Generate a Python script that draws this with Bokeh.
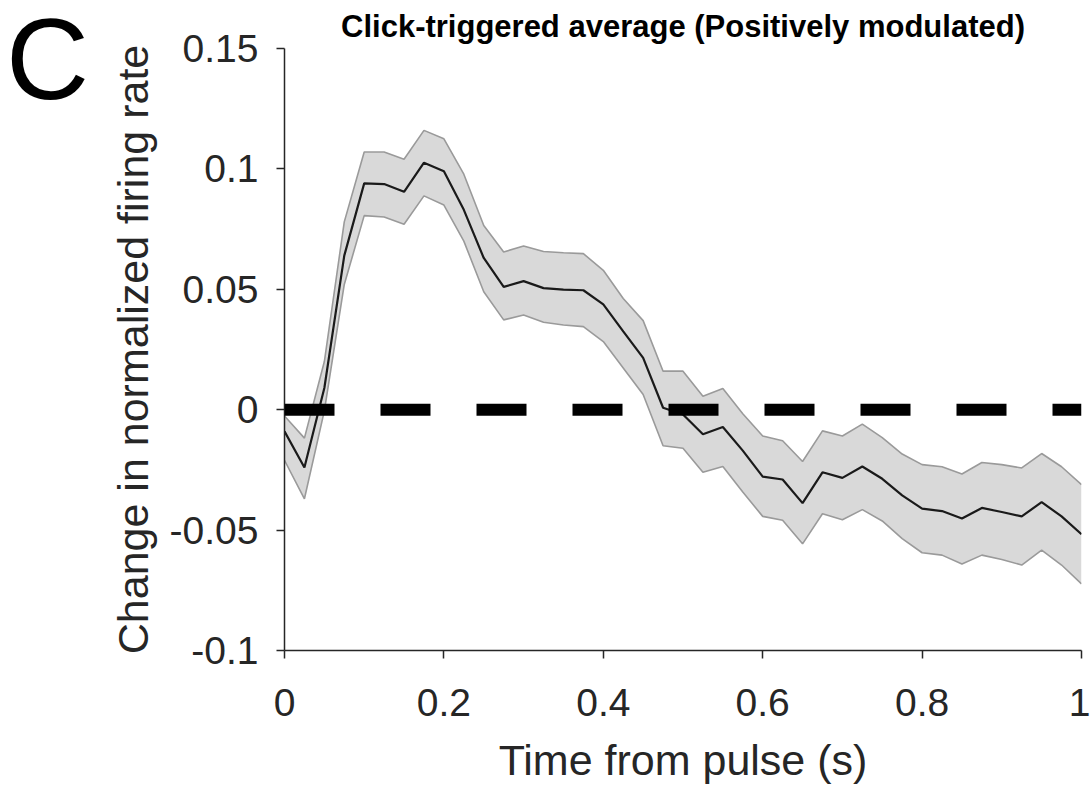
from bokeh.plotting import figure
from bokeh.models import Range1d, Span, FixedTicker, Div
from bokeh.layouts import row
from bokeh.embed import file_html
from bokeh.resources import INLINE

# ---- data ----
time_s = [0.0, 0.025, 0.05, 0.075, 0.1, 0.125, 0.15, 0.175, 0.2, 0.225,
          0.25, 0.275, 0.3, 0.325, 0.35, 0.375, 0.4, 0.425, 0.45, 0.475,
          0.5, 0.525, 0.55, 0.575, 0.6, 0.625, 0.65, 0.675, 0.7, 0.725,
          0.75, 0.775, 0.8, 0.825, 0.85, 0.875, 0.9, 0.925, 0.95, 0.975, 1.0]

mean_rate = [-0.009, -0.024, 0.009, 0.064, 0.094, 0.0937, 0.0905, 0.1026, 0.099, 0.083,
             0.063, 0.051, 0.0534, 0.0505, 0.0499, 0.0496, 0.0437, 0.0325, 0.0215, 0.0008,
             -0.002, -0.0102, -0.0072, -0.017, -0.0278, -0.029, -0.0388, -0.026, -0.0283, -0.0236,
             -0.0287, -0.0356, -0.0411, -0.0421, -0.0452, -0.0408, -0.0425, -0.0443, -0.0384, -0.0443,
             -0.0517]

upper_rate = [-0.0026, -0.0118, 0.020, 0.078, 0.107, 0.107, 0.104, 0.116, 0.1125, 0.0978,
              0.0765, 0.0655, 0.068, 0.0657, 0.0652, 0.0648, 0.0579, 0.0462, 0.037, 0.016,
              0.016, 0.0056, 0.0088, -0.0017, -0.0109, -0.0129, -0.0215, -0.0088, -0.0109, -0.006,
              -0.0116, -0.0184, -0.0228, -0.0237, -0.0267, -0.0219, -0.0228, -0.0242, -0.0182, -0.0237,
              -0.0311]

lower_rate = [-0.021, -0.037, -0.0005, 0.052, 0.0806, 0.080, 0.077, 0.0888, 0.085, 0.070,
              0.049, 0.0373, 0.0393, 0.0363, 0.0352, 0.0345, 0.0283, 0.0173, 0.0063, -0.015,
              -0.016, -0.026, -0.0236, -0.0342, -0.0443, -0.0459, -0.0557, -0.0432, -0.0457, -0.0415,
              -0.0462, -0.0535, -0.0594, -0.0604, -0.0641, -0.0604, -0.0622, -0.0645, -0.0583, -0.0645,
              -0.0723]

x_ticks = [0, 0.2, 0.4, 0.6, 0.8, 1.0]
x_tick_labels = ["0", "0.2", "0.4", "0.6", "0.8", "1"]
y_ticks = [-0.1, -0.05, 0, 0.05, 0.1, 0.15]
y_tick_labels = ["-0.1", "-0.05", "0", "0.05", "0.1", "0.15"]

title_text = "Click-triggered average (Positively modulated)"
x_label = "Time from pulse (s)"
y_label = "Change in normalized firing rate"
panel_letter = "C"

FONT = "Liberation Sans"
AXC = "#262626"
LETTER_W = 100
H = 786

# ---- panel letter (plain HTML text block to the left of the chart) ----
letter = Div(text=panel_letter, width=LETTER_W, height=H, margin=(0, 0, 0, 0),
             styles={"font-family": FONT, "font-size": "115px", "line-height": "1",
                     "padding-top": "2px", "padding-left": "6px", "color": "black",
                     "background-color": "white", "box-sizing": "border-box"})

# ---- main chart ----
p = figure(width=1090 - LETTER_W, height=H, output_backend="svg", toolbar_location=None,
           x_range=Range1d(0, 1), y_range=Range1d(-0.1, 0.15),
           min_border_left=284 - LETTER_W, min_border_right=9, min_border_top=48, min_border_bottom=131)
p.outline_line_color = None
p.grid.visible = False
p.background_fill_color = "white"
p.border_fill_color = "white"

p.title.text = title_text
p.title.text_font = FONT
p.title.text_font_style = "bold"
p.title.text_font_size = "31px"
p.title.align = "center"
p.title.text_color = "black"
p.title.standoff = 10

# band
p.varea(x=time_s, y1=lower_rate, y2=upper_rate, fill_color="#d9d9d9", fill_alpha=1.0)
p.line(time_s, upper_rate, line_color="#9a9a9a", line_width=1.6)
p.line(time_s, lower_rate, line_color="#9a9a9a", line_width=1.6)
p.line(time_s, mean_rate, line_color="#1a1a1a", line_width=2.2)

zero = Span(location=0, dimension="width", line_color="black", line_width=12, line_dash="50 46")
p.add_layout(zero)

for ax, ticks, labels in ((p.xaxis[0], x_ticks, x_tick_labels), (p.yaxis[0], y_ticks, y_tick_labels)):
    ax.ticker = FixedTicker(ticks=ticks)
    ax.major_label_overrides = {t: l for t, l in zip(ticks, labels)}
    ax.minor_tick_line_color = None
    ax.major_tick_in = 0
    ax.major_tick_out = 8
    ax.axis_line_color = AXC
    ax.axis_line_width = 1.5
    ax.major_tick_line_color = AXC
    ax.major_tick_line_width = 1.5
    ax.major_label_text_font = FONT
    ax.major_label_text_font_size = "39px"
    ax.major_label_text_color = AXC
    ax.axis_label_text_font = FONT
    ax.axis_label_text_font_size = "43px"
    ax.axis_label_text_font_style = "normal"
    ax.axis_label_text_color = AXC

p.xaxis.axis_label = x_label
p.yaxis.axis_label = y_label
p.xaxis.major_label_standoff = 30
p.yaxis.major_label_standoff = 18
p.xaxis.axis_label_standoff = 17
p.yaxis.axis_label_standoff = 10

layout = row(letter, p, spacing=0)
open("out.html", "w").write(file_html(layout, INLINE))
